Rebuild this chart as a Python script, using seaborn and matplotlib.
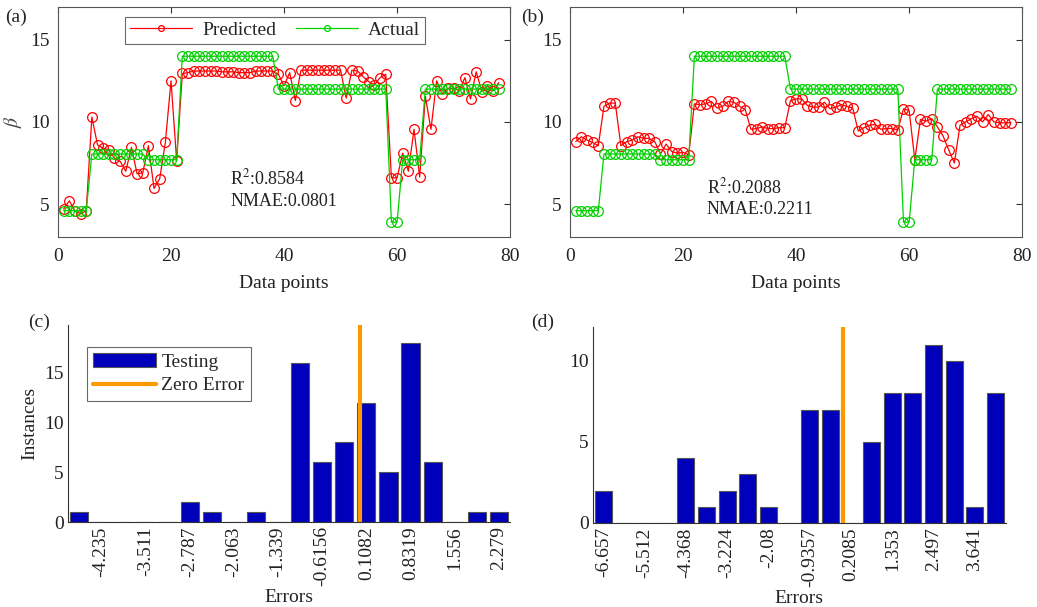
import numpy as np
import pandas as pd
import matplotlib
matplotlib.use("Agg")
import matplotlib.pyplot as plt
import seaborn as sns

sns.set_style("white")
plt.rcParams['font.family'] = ['Liberation Serif', 'DejaVu Serif']
plt.rcParams['mathtext.fontset'] = 'stix'

# ---------------- data ----------------
actual = ([4.6] * 5 + [8.05] * 10 + [7.7] * 6 + [14.0] * 17 + [12.0] * 20
          + [3.9] * 2 + [7.7] * 4 + [12.0] * 14)

pred_a = [4.7, 5.2, 4.6, 4.4, 4.6, 10.3, 8.6, 8.4, 8.3, 7.8,
          7.6, 7.0, 8.45, 6.85, 6.9, 8.55, 5.95, 6.55, 8.75, 12.5,
          7.65, 12.95, 13.0, 13.1, 13.1, 13.1, 13.1, 13.1, 13.05, 13.05,
          13.05, 13.0, 13.0, 13.0, 13.1, 13.1, 13.1, 13.1, 12.9, 12.2,
          13.0, 11.3, 13.15, 13.15, 13.15, 13.15, 13.15, 13.15, 13.15, 13.15,
          11.45, 13.15, 13.1, 12.75, 12.45, 12.25, 12.7, 12.9, 6.6, 6.6,
          8.1, 7.0, 9.55, 6.65, 11.55, 9.55, 12.5, 11.7, 12.05, 12.05,
          11.9, 12.7, 11.4, 13.05, 11.85, 12.2, 11.9, 12.4]

pred_b = [8.8, 9.1, 8.9, 8.75, 8.55, 10.95, 11.15, 11.15, 8.55, 8.8,
          8.9, 9.1, 9.0, 9.0, 8.8, 8.05, 8.65, 8.2, 8.1, 8.15,
          8.0, 11.1, 11.05, 11.1, 11.25, 10.85, 10.95, 11.25, 11.2, 10.95,
          10.75, 9.55, 9.6, 9.7, 9.6, 9.6, 9.65, 9.65, 11.3, 11.4,
          11.4, 11.0, 10.9, 10.9, 11.2, 10.8, 10.9, 11.05, 10.95, 10.85,
          9.45, 9.65, 9.8, 9.85, 9.55, 9.6, 9.6, 9.5, 10.8, 10.7,
          7.7, 10.15, 10.05, 10.2, 9.7, 9.15, 8.3, 7.5, 9.8, 10.0,
          10.2, 10.35, 10.0, 10.45, 10.0, 9.95, 9.95, 9.95]

points = list(range(1, len(actual) + 1))

# histogram (c)
c_start, c_width = -4.597, 0.3619
c_counts = [1, 0, 0, 0, 0, 2, 1, 0, 1, 0, 16, 6, 8, 12, 5, 18, 6, 0, 1, 1]
c_ticks = [-4.235, -3.511, -2.787, -2.063, -1.339, -0.6156, 0.1082, 0.8319, 1.556, 2.279]
c_ticklabels = ['-4.235', '-3.511', '-2.787', '-2.063', '-1.339', '-0.6156', '0.1082', '0.8319', '1.556', '2.279']

# histogram (d)
d_start, d_width = -6.657, 0.572
d_counts = [2, 0, 0, 0, 4, 1, 2, 3, 1, 0, 7, 7, 0, 5, 8, 8, 11, 10, 1, 8]
d_ticks = [-6.657, -5.512, -4.368, -3.224, -2.08, -0.9357, 0.2085, 1.353, 2.497, 3.641]
d_ticklabels = ['-6.657', '-5.512', '-4.368', '-3.224', '-2.08', '-0.9357', '0.2085', '1.353', '2.497', '3.641']

stats_a = ['0.8584', '0.0801']
stats_b = ['0.2088', '0.2211']

RED = '#ff0000'
GREEN = '#00d000'
BLUE = '#0000bb'
ORANGE = '#ff9900'
FS = 14

fig = plt.figure(figsize=(10.37, 6.07), dpi=100)
ax_a = fig.add_axes([0.0559, 0.6096, 0.436, 0.379])
ax_b = fig.add_axes([0.5497, 0.6096, 0.436, 0.379])
ax_c = fig.add_axes([0.0656, 0.140, 0.4262, 0.3245])
ax_d = fig.add_axes([0.5718, 0.1384, 0.398, 0.323])


def line_panel(ax, pred, stats, tx, ty, legend):
    df = pd.DataFrame({'x': points, 'pred': pred, 'actual': actual})
    sns.lineplot(data=df, x='x', y='pred', ax=ax, color=RED, lw=0.9, marker='o',
                 markersize=7, markerfacecolor='none', markeredgecolor=RED,
                 markeredgewidth=0.9, label='Predicted', sort=False)
    sns.lineplot(data=df, x='x', y='actual', ax=ax, color=GREEN, lw=0.9, marker='o',
                 markersize=7, markerfacecolor='none', markeredgecolor=GREEN,
                 markeredgewidth=0.9, label='Actual', sort=False)
    ax.set_xlim(0, 80)
    ax.set_ylim(3, 17)
    ax.set_xticks([0, 20, 40, 60, 80])
    ax.set_yticks([5, 10, 15])
    ax.set_xlabel('Data points', fontsize=FS, color='#222222', labelpad=7)
    ax.set_ylabel('')
    ax.tick_params(direction='in', top=True, right=True, labelsize=FS,
                   length=4, colors='#333333', labelcolor='#222222')
    ax.tick_params(axis='x', pad=8)
    ax.tick_params(axis='y', pad=6)
    for s in ax.spines.values():
        s.set_visible(True)
        s.set_color('#555555')
        s.set_linewidth(0.8)
    ax.text(tx, ty, 'R$^2$:' + stats[0] + '\nNMAE:' + stats[1], fontsize=13,
            ha='left', va='center', linespacing=1.3, color='#222222')
    if legend:
        leg = ax.legend(ncol=2, loc='upper center', bbox_to_anchor=(0.48, 1.0),
                        fontsize=FS, frameon=True, fancybox=False, edgecolor='#444444',
                        handlelength=3.2, columnspacing=1.0, borderpad=0.25,
                        handletextpad=0.5, markerscale=0.6)
        leg.get_frame().set_linewidth(0.8)
    elif ax.get_legend():
        ax.get_legend().remove()


line_panel(ax_a, pred_a, stats_a, 30.5, 5.9, True)
ax_a.set_ylabel(r'$\beta$', fontsize=FS, color='#444444')
line_panel(ax_b, pred_b, stats_b, 24.2, 5.4, False)


def hist_panel(ax, start, width, counts, ticks, labels, ytop, legend):
    centers = [start + i * width for i in range(len(counts))]
    df = pd.DataFrame({'center': centers, 'count': counts})
    sns.barplot(data=df, x='center', y='count', native_scale=True, ax=ax,
                color=BLUE, saturation=1, edgecolor='#555555', linewidth=0.8,
                width=0.82, label='Testing')
    ax.axvline(0, color=ORANGE, lw=3, label='Zero Error')
    ax.set_xlim(centers[0] - width / 2, centers[-1] + width / 2)
    ax.set_ylim(0, ytop)
    ax.set_xticks(ticks)
    ax.set_xticklabels(labels, rotation=90)
    ax.set_xlabel('Errors', fontsize=FS, color='#222222', labelpad=2)
    ax.set_ylabel('')
    ax.tick_params(direction='in', labelsize=FS, length=4, colors='#333333',
                   labelcolor='#222222', pad=3)
    sns.despine(ax=ax)
    for s in ['left', 'bottom']:
        ax.spines[s].set_color('#333333')
        ax.spines[s].set_linewidth(0.8)
    if legend:
        handles, lbls = ax.get_legend_handles_labels()
        order = [lbls.index('Testing'), lbls.index('Zero Error')]
        leg = ax.legend([handles[i] for i in order], [lbls[i] for i in order],
                        loc='upper left', bbox_to_anchor=(0.02, 0.94), fontsize=FS,
                        frameon=True, fancybox=False, edgecolor='#444444',
                        handlelength=3.2, borderpad=0.35, handletextpad=0.3,
                        labelspacing=0.3)
        leg.get_frame().set_linewidth(0.8)
    elif ax.get_legend():
        ax.get_legend().remove()


hist_panel(ax_c, c_start, c_width, c_counts, c_ticks, c_ticklabels, 19.8, True)
ax_c.set_yticks([0, 5, 10, 15])
ax_c.set_ylabel('Instances', fontsize=FS, color='#222222')
hist_panel(ax_d, d_start, d_width, d_counts, d_ticks, d_ticklabels, 12.1, False)
ax_d.set_yticks([0, 5, 10])

# panel labels
fig.text(0.005, 0.985, '(a)', fontsize=FS, va='top', ha='left')
fig.text(0.503, 0.985, '(b)', fontsize=FS, va='top', ha='left')
fig.text(0.027, 0.483, '(c)', fontsize=FS, va='top', ha='left')
fig.text(0.512, 0.483, '(d)', fontsize=FS, va='top', ha='left')

fig.savefig('out.png', dpi=100)
